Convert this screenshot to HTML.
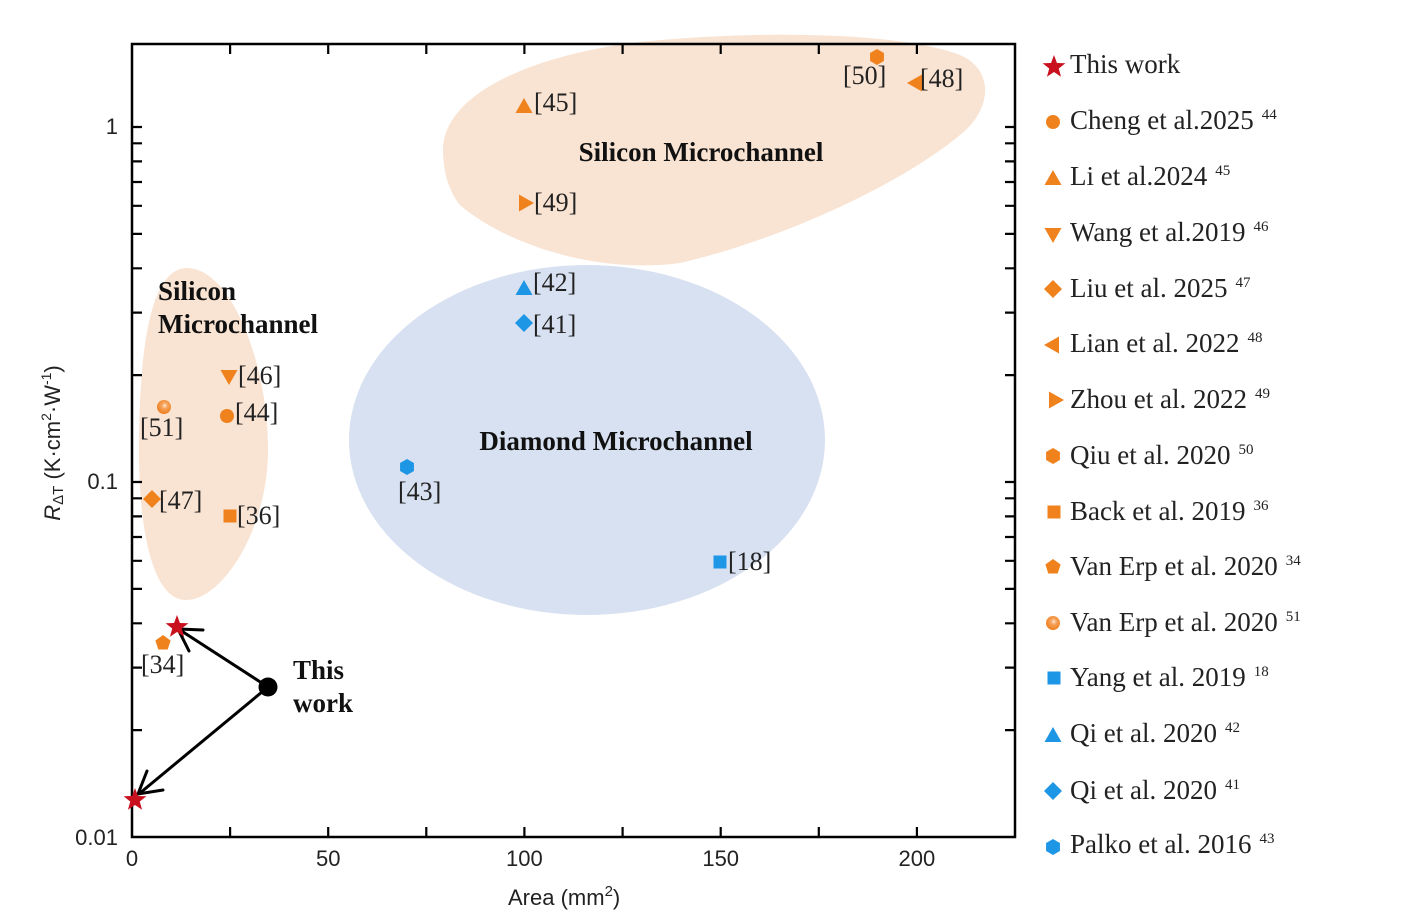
<!DOCTYPE html>
<html><head><meta charset="utf-8"><style>html,body{margin:0;padding:0;background:#fff}svg{display:block}</style></head>
<body>
<svg width="1410" height="922" viewBox="0 0 1410 922" xmlns="http://www.w3.org/2000/svg">
<defs>
<polygon id="star" points="0,-12 2.94,-4.05 11.41,-3.71 4.76,1.55 7.05,9.71 0,5 -7.05,9.71 -4.76,1.55 -11.41,-3.71 -2.94,-4.05"/>
<polygon id="hex" points="0,-8 6.93,-4 6.93,4 0,8 -6.93,4 -6.93,-4"/>
<polygon id="pent" points="0,-8 7.61,-2.47 4.7,6.47 -4.7,6.47 -7.61,-2.47"/>
<polygon id="tup" points="0,-8 8.5,7 -8.5,7"/>
<polygon id="tdn" points="0,8 8.5,-7 -8.5,-7"/>
<polygon id="tlf" points="-8,0 7,-8.5 7,8.5"/>
<polygon id="trt" points="8,0 -7,-8.5 -7,8.5"/>
<polygon id="dia" points="0,-9 9,0 0,9 -9,0"/>
<rect id="sq" x="-6.5" y="-6.5" width="13" height="13"/>
<circle id="cir" r="7"/>
<radialGradient id="sph" cx="0.55" cy="0.4" r="0.6">
<stop offset="0" stop-color="#fde7d2"/><stop offset="0.35" stop-color="#f6a25a"/><stop offset="1" stop-color="#ef7f1e"/>
</radialGradient>
</defs>
<rect width="1410" height="922" fill="#fff"/>

<path d="M443,150 C443,95 530,55 640,42 C760,30 900,32 960,55 C995,70 992,110 960,135 C900,185 780,240 680,263 C590,275 500,240 460,205 C448,190 443,170 443,150 Z" fill="#f9e3d2"/>
<ellipse cx="587" cy="440" rx="238" ry="175" fill="#d8e1f1"/>
<path d="M187,268 C230,268 268,360 268,450 C268,530 222,600 186,600 C150,600 138,520 139,440 C140,350 150,268 187,268 Z" fill="#f9e3d2"/>

<rect x="132" y="44" width="883" height="793" fill="none" stroke="#000" stroke-width="2.5"/>
<g stroke="#000" stroke-width="2.2">
<path d="M230.1,837v-10 M328.2,837v-10 M426.3,837v-10 M524.4,837v-10 M622.6,837v-10 M720.7,837v-10 M818.8,837v-10 M916.9,837v-10"/>
<path d="M230.1,44v10 M328.2,44v10 M426.3,44v10 M524.4,44v10 M622.6,44v10 M720.7,44v10 M818.8,44v10 M916.9,44v10"/>
<path d="M132,730.1h10 M132,667.6h10 M132,623.3h10 M132,588.9h10 M132,560.8h10 M132,537h10 M132,516.4h10 M132,498.3h10 M132,482h10 M132,375.1h10 M132,312.6h10 M132,268.3h10 M132,233.9h10 M132,205.8h10 M132,182h10 M132,161.4h10 M132,143.3h10 M132,127h10"/>
<path d="M1015,730.1h-10 M1015,667.6h-10 M1015,623.3h-10 M1015,588.9h-10 M1015,560.8h-10 M1015,537h-10 M1015,516.4h-10 M1015,498.3h-10 M1015,482h-10 M1015,375.1h-10 M1015,312.6h-10 M1015,268.3h-10 M1015,233.9h-10 M1015,205.8h-10 M1015,182h-10 M1015,161.4h-10 M1015,143.3h-10 M1015,127h-10"/>
</g>

<g font-family="Liberation Sans, Arial, sans-serif" font-size="22" fill="#222">
<text x="118" y="134" text-anchor="end">1</text>
<text x="118" y="489" text-anchor="end">0.1</text>
<text x="118" y="845" text-anchor="end">0.01</text>
<text x="132" y="866" text-anchor="middle">0</text>
<text x="328.2" y="866" text-anchor="middle">50</text>
<text x="524.4" y="866" text-anchor="middle">100</text>
<text x="720.7" y="866" text-anchor="middle">150</text>
<text x="916.9" y="866" text-anchor="middle">200</text>
<text x="508" y="905">Area (mm<tspan font-size="15" dy="-9">2</tspan><tspan dy="9">)</tspan></text>
<text transform="translate(60,443) rotate(-90)" text-anchor="middle"><tspan font-style="italic">R</tspan><tspan font-size="15" dy="3">ΔT</tspan><tspan dy="-3"> (K·cm</tspan><tspan font-size="14" dy="-9">2</tspan><tspan dy="9">·W</tspan><tspan font-size="14" dy="-9">-1</tspan><tspan dy="9">)</tspan></text>
</g>

<g font-family="Liberation Serif, 'Times New Roman', serif" font-size="27" font-weight="bold" fill="#111">
<text x="701" y="161" text-anchor="middle">Silicon Microchannel</text>
<text x="616" y="450" text-anchor="middle">Diamond Microchannel</text>
<text x="158" y="300">Silicon</text>
<text x="158" y="333">Microchannel</text>
<text x="293" y="679">This</text>
<text x="293" y="712">work</text>
</g>

<g stroke="#000" stroke-width="3" fill="none" stroke-linecap="round">
<line x1="268" y1="687" x2="180" y2="630"/>
<polyline points="203,630 178,629 189,651"/>
<line x1="268" y1="687" x2="140" y2="793"/>
<polyline points="163,790 138,794 147,771"/>
</g>
<circle cx="268" cy="687" r="9.5" fill="#000"/>

<g fill="#f0821e">
<use href="#hex" x="877" y="57"/>
<use href="#tlf" x="915" y="83"/>
<use href="#tup" x="524" y="106"/>
<use href="#trt" x="526" y="203"/>
<use href="#tdn" x="229" y="377"/>
<use href="#cir" x="227" y="416"/>
<use href="#dia" x="152" y="499"/>
<use href="#sq" x="230" y="516"/>
<use href="#pent" x="163" y="643"/>
</g>
<circle cx="164" cy="407" r="7" fill="url(#sph)"/>
<g fill="#1e96e6">
<use href="#tup" x="524" y="288"/>
<use href="#dia" x="524" y="323"/>
<use href="#hex" x="407" y="467"/>
<use href="#sq" x="720" y="562"/>
</g>
<g fill="#c8101e">
<use href="#star" x="177" y="627"/>
<use href="#star" x="135" y="800"/>
</g>

<g font-family="Liberation Serif, 'Times New Roman', serif" font-size="26" fill="#222">
<text x="843" y="84">[50]</text>
<text x="920" y="87">[48]</text>
<text x="534" y="111">[45]</text>
<text x="534" y="211">[49]</text>
<text x="533" y="291">[42]</text>
<text x="533" y="333">[41]</text>
<text x="398" y="500">[43]</text>
<text x="728" y="570">[18]</text>
<text x="238" y="384">[46]</text>
<text x="235" y="421">[44]</text>
<text x="140" y="436">[51]</text>
<text x="159" y="509">[47]</text>
<text x="237" y="524">[36]</text>
<text x="141" y="673">[34]</text>
</g>

<g fill="#f0821e">
<use href="#cir" x="1053" y="122"/>
<use href="#tup" x="1053" y="178"/>
<use href="#tdn" x="1053" y="235"/>
<use href="#dia" x="1053" y="289"/>
<use href="#tlf" x="1052" y="345"/>
<use href="#trt" x="1056" y="400"/>
<use href="#hex" x="1053" y="456"/>
<use href="#sq" x="1054" y="512"/>
<use href="#pent" x="1053" y="567"/>
</g>
<circle cx="1053" cy="623" r="7" fill="url(#sph)"/>
<g fill="#1e96e6">
<use href="#sq" x="1054" y="678"/>
<use href="#tup" x="1053" y="735"/>
<use href="#dia" x="1053" y="791"/>
<use href="#hex" x="1053" y="847"/>
</g>
<use href="#star" x="1054" y="67" fill="#c8101e"/>

<g font-family="Liberation Serif, 'Times New Roman', serif" font-size="27" fill="#222">
<text x="1070" y="73">This work</text>
<text x="1070" y="129">Cheng et al.2025<tspan font-size="15" dx="8" dy="-10">44</tspan></text>
<text x="1070" y="185">Li et al.2024<tspan font-size="15" dx="8" dy="-10">45</tspan></text>
<text x="1070" y="241">Wang et al.2019<tspan font-size="15" dx="8" dy="-10">46</tspan></text>
<text x="1070" y="297">Liu et al. 2025<tspan font-size="15" dx="8" dy="-10">47</tspan></text>
<text x="1070" y="352">Lian et al. 2022<tspan font-size="15" dx="8" dy="-10">48</tspan></text>
<text x="1070" y="408">Zhou et al. 2022<tspan font-size="15" dx="8" dy="-10">49</tspan></text>
<text x="1070" y="464">Qiu et al. 2020<tspan font-size="15" dx="8" dy="-10">50</tspan></text>
<text x="1070" y="520">Back et al. 2019<tspan font-size="15" dx="8" dy="-10">36</tspan></text>
<text x="1070" y="575">Van Erp et al. 2020<tspan font-size="15" dx="8" dy="-10">34</tspan></text>
<text x="1070" y="631">Van Erp et al. 2020<tspan font-size="15" dx="8" dy="-10">51</tspan></text>
<text x="1070" y="686">Yang et al. 2019<tspan font-size="15" dx="8" dy="-10">18</tspan></text>
<text x="1070" y="742">Qi et al. 2020<tspan font-size="15" dx="8" dy="-10">42</tspan></text>
<text x="1070" y="799">Qi et al. 2020<tspan font-size="15" dx="8" dy="-10">41</tspan></text>
<text x="1070" y="853">Palko et al. 2016<tspan font-size="15" dx="8" dy="-10">43</tspan></text>
</g>
</svg>
</body></html>
